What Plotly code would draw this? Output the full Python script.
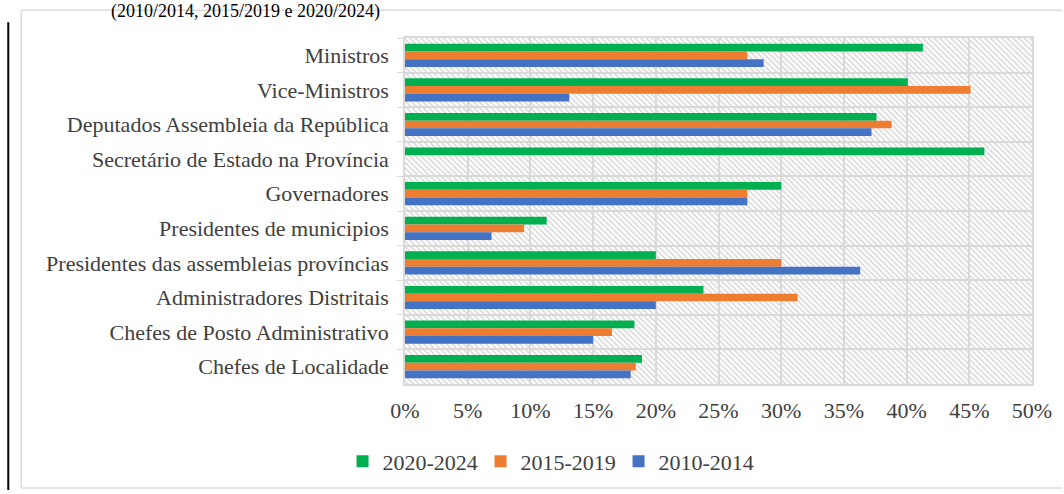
import base64
import plotly.graph_objects as go

categories = [
    "Ministros",
    "Vice-Ministros",
    "Deputados Assembleia da República",
    "Secretário de Estado na Província",
    "Governadores",
    "Presidentes de municipios",
    "Presidentes das assembleias províncias",
    "Administradores Distritais",
    "Chefes de Posto Administrativo",
    "Chefes de Localidade",
]
v_2020_2024 = [41.3, 40.1, 37.6, 46.2, 30.0, 11.3, 20.0, 23.8, 18.3, 18.9]
v_2015_2019 = [27.3, 45.1, 38.8, 0, 27.3, 9.5, 30.0, 31.3, 16.5, 18.4]
v_2010_2014 = [28.6, 13.1, 37.2, 0, 27.3, 6.9, 36.3, 20.0, 15.0, 18.0]
series_names = ["2020-2024", "2015-2019", "2010-2014"]
series_colors = ["#00B050", "#ED7D31", "#4472C4"]
tick_vals = [0, 5, 10, 15, 20, 25, 30, 35, 40, 45, 50]
tick_text = [f"{v}%" for v in tick_vals]
title_text = "(2010/2014, 2015/2019 e 2020/2024)"

W, H = 1064, 494
L, R, T, B = 405, 30, 38, 107
PW, PH = W - L - R, H - T - B

FONT = "Liberation Serif"
TXT = "#404040"

fig = go.Figure()
for name, vals, col in zip(series_names, [v_2020_2024, v_2015_2019, v_2010_2014], series_colors):
    fig.add_trace(go.Bar(
        y=categories, x=vals, name=name, orientation="h",
        marker=dict(color=col, line=dict(width=0)),
    ))

# hatched background image
svg = (
    f"<svg xmlns='http://www.w3.org/2000/svg' width='{PW}' height='{PH}'>"
    "<defs><pattern id='p' width='4' height='4' patternUnits='userSpaceOnUse' patternTransform='rotate(45)'>"
    "<rect width='4' height='4' fill='#ffffff'/>"
    "<rect width='4' height='1.5' fill='#d6d6d6'/>"
    "</pattern></defs>"
    f"<rect width='{PW}' height='{PH}' fill='url(#p)'/></svg>"
)
src = "data:image/svg+xml;base64," + base64.b64encode(svg.encode()).decode()
fig.add_layout_image(dict(
    source=src, xref="paper", yref="paper", x=0, y=1, sizex=1, sizey=1,
    sizing="stretch", xanchor="left", yanchor="top", layer="below",
))

def px_x(p):
    return (p - L) / PW

def px_y(p):
    return 1 - (p - T) / PH

# outer light frame: left, top and bottom edges (right side runs off the page)
frame = dict(color="#dcdcdc", width=1.5)
fig.add_shape(type="line", xref="paper", yref="paper", layer="below",
              x0=px_x(20), x1=px_x(20), y0=px_y(492), y1=px_y(10), line=frame)
fig.add_shape(type="line", xref="paper", yref="paper", layer="below",
              x0=px_x(20), x1=px_x(W), y0=px_y(10), y1=px_y(10), line=frame)
fig.add_shape(type="line", xref="paper", yref="paper", layer="below",
              x0=px_x(20), x1=px_x(W), y0=px_y(492), y1=px_y(492), line=frame)
# black vertical page line
fig.add_shape(type="line", xref="paper", yref="paper",
              x0=px_x(7), x1=px_x(7), y0=px_y(494), y1=px_y(22),
              line=dict(color="#000000", width=2))

fig.add_annotation(text=title_text, xref="paper", yref="paper",
                   x=px_x(108), y=px_y(11), xanchor="left", yanchor="middle",
                   showarrow=False, font=dict(family=FONT, size=18, color="#000000"))

fig.update_layout(
    width=W, height=H,
    margin=dict(l=L, r=R, t=T, b=B),
    paper_bgcolor="#ffffff",
    plot_bgcolor="rgba(0,0,0,0)",
    barmode="group", bargap=0.33, bargroupgap=0,
    font=dict(family=FONT, size=22, color=TXT),
    legend=dict(orientation="h", x=px_x(550), y=px_y(465), xanchor="center", yanchor="middle",
                font=dict(family=FONT, size=22, color=TXT), itemwidth=30,
                entrywidth=93, entrywidthmode="pixels",
                bgcolor="rgba(0,0,0,0)"),
    showlegend=True,
)
fig.update_xaxes(range=[0, 50], tickvals=tick_vals, ticktext=tick_text,
                 showgrid=True, gridcolor="#d9d9d9", gridwidth=1.5,
                 showline=True, linecolor="#d9d9d9", linewidth=1.5, mirror=True,
                 zeroline=False, ticks="", ticklabelstandoff=6,
                 tickfont=dict(family=FONT, size=22, color=TXT))
fig.update_yaxes(autorange="reversed", type="category", tickson="boundaries",
                 showgrid=True, gridcolor="#d9d9d9", gridwidth=1.5,
                 showline=True, linecolor="#d9d9d9", linewidth=1.5, mirror=True,
                 ticks="outside", ticklen=6, tickcolor="#d9d9d9", ticklabelstandoff=10,
                 tickfont=dict(family=FONT, size=22, color=TXT))

fig.write_html("out.html", post_script="document.body.style.margin='0';",
               config={"displayModeBar": False})
